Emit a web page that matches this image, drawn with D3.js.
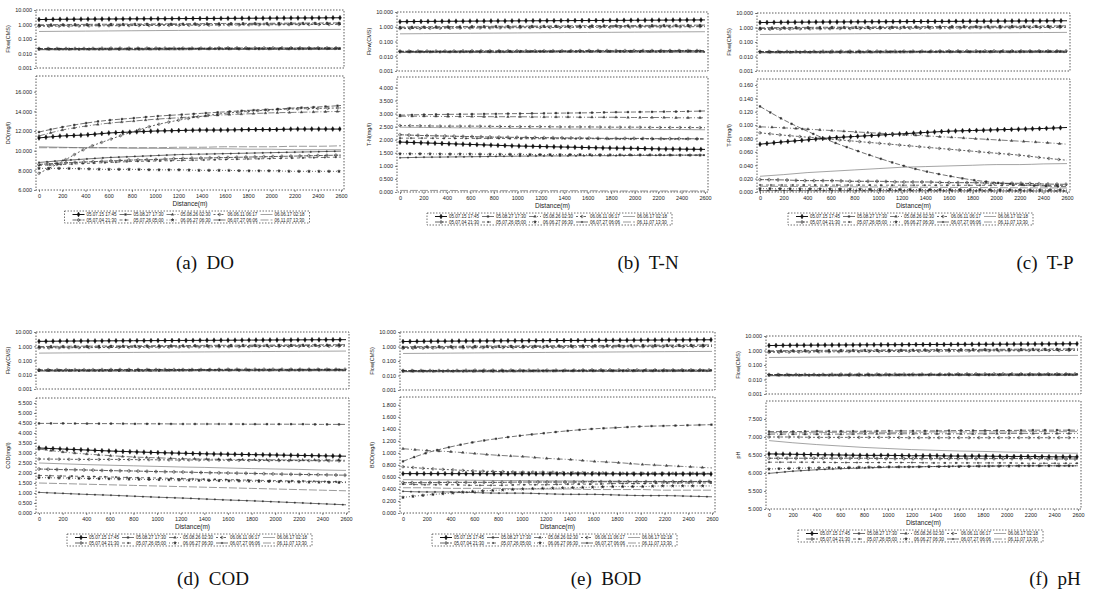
<!DOCTYPE html>
<html>
<head>
<meta charset="utf-8">
<script src="https://d3js.org/d3.v7.min.js"></script>
<style>
  body { margin: 0; background: #fff; }
  svg text { font-family: "Liberation Sans", Arial, sans-serif; fill: #222; }
  .cap { font-family: "Liberation Serif", "DejaVu Serif", serif; font-size: 19px; fill: #111; }
</style>
</head>
<body>
<div id="chart"></div>
<script>
// ---- data ----
const distance = [0, 200, 400, 600, 800, 1000, 1200, 1400, 1600, 1800, 2000, 2200, 2400, 2600];
const distTicks = [0, 200, 400, 600, 800, 1000, 1200, 1400, 1600, 1800, 2000, 2200, 2400, 2600];

const seriesDates = [
  "05.07.15 17:45", "05.08.27 17:30", "05.08.26 02:30", "06.06.11 06:17", "06.06.17 02:18",
  "05.07.04 21:30", "05.07.26 05:00", "06.06.27 06:30", "06.07.27 06:06", "06.11.07 13:30"
];

// flow (CMS), same hydraulics in every panel
const flowValues = [
  [2.2, 2.3, 2.35, 2.4, 2.45, 2.5, 2.55, 2.6, 2.65, 2.7, 2.75, 2.8, 2.85, 2.9],
  [0.95, 1.0, 1.02, 1.05, 1.08, 1.1, 1.12, 1.15, 1.18, 1.2, 1.22, 1.25, 1.27, 1.3],
  [0.85, 0.88, 0.9, 0.93, 0.96, 0.98, 1.0, 1.02, 1.04, 1.06, 1.08, 1.1, 1.12, 1.14],
  [0.75, 0.78, 0.8, 0.82, 0.84, 0.86, 0.88, 0.9, 0.92, 0.94, 0.96, 0.98, 1.0, 1.02],
  [0.33, 0.34, 0.35, 0.36, 0.37, 0.38, 0.39, 0.4, 0.41, 0.42, 0.43, 0.44, 0.45, 0.46],
  [0.022, 0.022, 0.022, 0.023, 0.023, 0.023, 0.023, 0.023, 0.024, 0.024, 0.024, 0.024, 0.024, 0.024],
  [0.021, 0.021, 0.021, 0.021, 0.022, 0.022, 0.022, 0.022, 0.022, 0.022, 0.023, 0.023, 0.023, 0.023],
  [0.020, 0.020, 0.020, 0.020, 0.020, 0.021, 0.021, 0.021, 0.021, 0.021, 0.021, 0.021, 0.022, 0.022],
  [0.019, 0.019, 0.019, 0.019, 0.019, 0.019, 0.020, 0.020, 0.020, 0.020, 0.020, 0.020, 0.020, 0.020],
  [0.018, 0.018, 0.018, 0.018, 0.018, 0.018, 0.018, 0.019, 0.019, 0.019, 0.019, 0.019, 0.019, 0.019]
];
const flowTicks = [0.001, 0.01, 0.1, 1, 10];

const doValues = [
  [11.3, 11.5, 11.6, 11.8, 11.9, 12.0, 12.05, 12.1, 12.1, 12.15, 12.15, 12.2, 12.2, 12.2],
  [11.9, 12.4, 12.8, 13.1, 13.3, 13.5, 13.65, 13.8, 13.95, 14.1, 14.2, 14.35, 14.45, 14.6],
  [11.5, 12.1, 12.5, 12.8, 13.0, 13.2, 13.35, 13.5, 13.65, 13.75, 13.85, 13.9, 13.95, 14.0],
  [7.7, 8.9, 10.2, 11.1, 11.9, 12.6, 13.1, 13.5, 13.8, 14.0, 14.15, 14.25, 14.3, 14.35],
  [10.4, 10.35, 10.3, 10.3, 10.25, 10.25, 10.2, 10.2, 10.2, 10.15, 10.15, 10.1, 10.1, 10.1],
  [8.6, 8.75, 8.85, 8.95, 9.05, 9.1, 9.2, 9.25, 9.3, 9.35, 9.4, 9.45, 9.5, 9.55],
  [8.5, 8.6, 8.7, 8.8, 8.9, 8.95, 9.0, 9.05, 9.1, 9.15, 9.2, 9.25, 9.3, 9.35],
  [8.2, 8.2, 8.15, 8.1, 8.1, 8.05, 8.05, 8.0, 8.0, 7.95, 7.95, 7.9, 7.9, 7.9],
  [8.8, 9.0, 9.15, 9.3, 9.4, 9.5, 9.6, 9.65, 9.7, 9.75, 9.8, 9.85, 9.9, 9.95],
  [10.3, 10.3, 10.3, 10.3, 10.3, 10.3, 10.35, 10.35, 10.4, 10.4, 10.4, 10.45, 10.45, 10.5]
];
const doTicks = [6, 8, 10, 12, 14, 16];

const tnValues = [
  [1.91, 1.88, 1.85, 1.82, 1.79, 1.76, 1.74, 1.72, 1.70, 1.68, 1.67, 1.65, 1.64, 1.63],
  [2.94, 2.96, 2.97, 2.98, 2.99, 3.0, 3.01, 3.02, 3.03, 3.05, 3.06, 3.07, 3.08, 3.1],
  [2.9, 2.9, 2.89, 2.89, 2.88, 2.88, 2.87, 2.87, 2.86, 2.86, 2.85, 2.85, 2.84, 2.84],
  [2.54, 2.53, 2.52, 2.52, 2.51, 2.5, 2.5, 2.49, 2.49, 2.48, 2.48, 2.47, 2.47, 2.46],
  [2.48, 2.47, 2.46, 2.45, 2.44, 2.43, 2.42, 2.41, 2.41, 2.4, 2.4, 2.39, 2.39, 2.38],
  [2.19, 2.16, 2.14, 2.12, 2.10, 2.09, 2.08, 2.07, 2.06, 2.05, 2.05, 2.04, 2.04, 2.03],
  [2.06, 2.06, 2.05, 2.05, 2.05, 2.04, 2.04, 2.04, 2.04, 2.03, 2.03, 2.03, 2.03, 2.03],
  [1.46, 1.46, 1.45, 1.45, 1.44, 1.44, 1.43, 1.43, 1.43, 1.42, 1.42, 1.42, 1.41, 1.41],
  [1.31, 1.33, 1.34, 1.35, 1.36, 1.37, 1.38, 1.38, 1.39, 1.39, 1.40, 1.40, 1.41, 1.41],
  [0.06, 0.06, 0.06, 0.05, 0.05, 0.05, 0.05, 0.05, 0.05, 0.04, 0.04, 0.04, 0.04, 0.04]
];
const tnTicks = [0, 0.5, 1, 1.5, 2, 2.5, 3, 3.5, 4];

const tpValues = [
  [0.0715, 0.075, 0.078, 0.081, 0.083, 0.085, 0.087, 0.089, 0.091, 0.092, 0.093, 0.094, 0.095, 0.0965],
  [0.128, 0.108, 0.091, 0.076, 0.063, 0.051, 0.040, 0.031, 0.024, 0.018, 0.014, 0.011, 0.009, 0.008],
  [0.0975, 0.096, 0.094, 0.092, 0.090, 0.088, 0.086, 0.084, 0.082, 0.080, 0.078, 0.076, 0.074, 0.0715],
  [0.0885, 0.085, 0.082, 0.079, 0.076, 0.073, 0.070, 0.067, 0.064, 0.061, 0.058, 0.055, 0.051, 0.0475],
  [0.0235, 0.026, 0.029, 0.031, 0.033, 0.035, 0.037, 0.038, 0.039, 0.040, 0.041, 0.041, 0.042, 0.0425],
  [0.0185, 0.018, 0.017, 0.017, 0.016, 0.016, 0.015, 0.015, 0.014, 0.014, 0.013, 0.013, 0.012, 0.0115],
  [0.0105, 0.0104, 0.0104, 0.0103, 0.0103, 0.0102, 0.0102, 0.0101, 0.0101, 0.0100, 0.0100, 0.0100, 0.0099, 0.0099],
  [0.005, 0.0048, 0.0046, 0.0044, 0.0042, 0.0040, 0.0039, 0.0037, 0.0036, 0.0035, 0.0033, 0.0032, 0.0031, 0.0030],
  [0.0022, 0.0022, 0.0021, 0.0021, 0.0020, 0.0020, 0.0019, 0.0019, 0.0018, 0.0018, 0.0017, 0.0017, 0.0016, 0.0016],
  [0.0085, 0.0083, 0.0081, 0.0079, 0.0077, 0.0075, 0.0073, 0.0071, 0.0069, 0.0067, 0.0065, 0.0063, 0.0061, 0.0060]
];
const tpTicks = [0, 0.02, 0.04, 0.06, 0.08, 0.1, 0.12, 0.14, 0.16];

const codValues = [
  [3.25, 3.2, 3.15, 3.1, 3.06, 3.02, 2.99, 2.96, 2.94, 2.92, 2.9, 2.88, 2.86, 2.84],
  [4.48, 4.48, 4.47, 4.47, 4.46, 4.46, 4.45, 4.45, 4.45, 4.44, 4.44, 4.44, 4.43, 4.43],
  [3.2, 3.05, 2.95, 2.87, 2.8, 2.76, 2.72, 2.7, 2.68, 2.67, 2.66, 2.65, 2.65, 2.64],
  [2.7, 2.69, 2.68, 2.68, 2.67, 2.66, 2.65, 2.65, 2.64, 2.63, 2.62, 2.62, 2.61, 2.6],
  [2.5, 2.46, 2.42, 2.39, 2.36, 2.33, 2.3, 2.28, 2.25, 2.22, 2.2, 2.18, 2.15, 2.13],
  [2.2, 2.17, 2.15, 2.12, 2.1, 2.07, 2.05, 2.02, 2.0, 1.98, 1.95, 1.93, 1.91, 1.89],
  [1.88, 1.85, 1.83, 1.8, 1.77, 1.75, 1.72, 1.69, 1.67, 1.64, 1.62, 1.6, 1.58, 1.56],
  [1.77, 1.75, 1.73, 1.71, 1.69, 1.67, 1.65, 1.63, 1.61, 1.59, 1.57, 1.55, 1.54, 1.52],
  [1.03, 0.98, 0.93, 0.89, 0.84, 0.79, 0.75, 0.70, 0.65, 0.61, 0.56, 0.51, 0.46, 0.41],
  [1.5, 1.47, 1.44, 1.41, 1.38, 1.35, 1.32, 1.29, 1.26, 1.23, 1.2, 1.17, 1.14, 1.11]
];
const codTicks = [0, 0.5, 1, 1.5, 2, 2.5, 3, 3.5, 4, 4.5, 5, 5.5];

const bodValues = [
  [0.655, 0.655, 0.655, 0.654, 0.653, 0.653, 0.652, 0.652, 0.651, 0.651, 0.65, 0.65, 0.65, 0.65],
  [0.86, 1.0, 1.1, 1.18, 1.24, 1.29, 1.33, 1.37, 1.40, 1.42, 1.44, 1.45, 1.46, 1.47],
  [1.07, 1.04, 1.02, 0.99, 0.96, 0.94, 0.91, 0.89, 0.86, 0.84, 0.81, 0.79, 0.77, 0.75],
  [0.77, 0.74, 0.72, 0.7, 0.69, 0.68, 0.68, 0.67, 0.67, 0.66, 0.66, 0.66, 0.66, 0.66],
  [0.555, 0.55, 0.55, 0.545, 0.54, 0.54, 0.535, 0.535, 0.53, 0.53, 0.525, 0.525, 0.52, 0.52],
  [0.505, 0.505, 0.51, 0.51, 0.51, 0.515, 0.515, 0.515, 0.52, 0.52, 0.52, 0.52, 0.525, 0.525],
  [0.48, 0.47, 0.47, 0.46, 0.46, 0.47, 0.47, 0.48, 0.48, 0.49, 0.49, 0.5, 0.5, 0.5],
  [0.26, 0.3, 0.33, 0.36, 0.38, 0.40, 0.41, 0.42, 0.43, 0.44, 0.44, 0.45, 0.45, 0.45],
  [0.36, 0.35, 0.35, 0.34, 0.33, 0.33, 0.32, 0.31, 0.31, 0.30, 0.29, 0.29, 0.28, 0.27],
  [0.42, 0.42, 0.41, 0.41, 0.41, 0.40, 0.40, 0.40, 0.39, 0.39, 0.39, 0.38, 0.38, 0.38]
];
const bodTicks = [0, 0.2, 0.4, 0.6, 0.8, 1, 1.2, 1.4, 1.6, 1.8];

const phValues = [
  [6.53, 6.52, 6.51, 6.5, 6.49, 6.49, 6.48, 6.48, 6.47, 6.47, 6.46, 6.46, 6.45, 6.45],
  [7.15, 7.15, 7.16, 7.16, 7.16, 7.17, 7.17, 7.17, 7.18, 7.18, 7.18, 7.19, 7.19, 7.19],
  [7.08, 7.08, 7.08, 7.08, 7.09, 7.09, 7.09, 7.09, 7.09, 7.09, 7.1, 7.1, 7.1, 7.1],
  [7.0, 7.0, 6.99, 6.99, 6.99, 6.99, 6.98, 6.98, 6.98, 6.98, 6.98, 6.98, 6.98, 6.98],
  [6.9, 6.84, 6.79, 6.75, 6.71, 6.68, 6.65, 6.63, 6.61, 6.6, 6.58, 6.57, 6.56, 6.55],
  [6.41, 6.41, 6.41, 6.41, 6.41, 6.4, 6.4, 6.4, 6.4, 6.4, 6.4, 6.4, 6.39, 6.39],
  [6.3, 6.3, 6.3, 6.29, 6.29, 6.29, 6.29, 6.28, 6.28, 6.28, 6.28, 6.27, 6.27, 6.27],
  [6.11, 6.13, 6.14, 6.15, 6.16, 6.17, 6.17, 6.18, 6.18, 6.19, 6.19, 6.2, 6.2, 6.2],
  [5.99, 6.05, 6.09, 6.12, 6.14, 6.16, 6.17, 6.18, 6.19, 6.19, 6.2, 6.2, 6.2, 6.2],
  [7.12, 7.12, 7.12, 7.13, 7.13, 7.13, 7.13, 7.14, 7.14, 7.14, 7.14, 7.15, 7.15, 7.15]
];
const phTicks = [5, 5.5, 6, 6.5, 7, 7.5];

// ---- layout / styles ----
const lineStyles = [
  { dash: null,      w: 1.0, color: "#111", sym: d3.symbolDiamond, size: 7,  step: 7 },
  { dash: "5,2",     w: 0.7, color: "#333", sym: d3.symbolSquare,  size: 3,  step: 12 },
  { dash: "6,2,1,2", w: 0.7, color: "#444", sym: d3.symbolTriangle, size: 3, step: 12 },
  { dash: "2,2",     w: 0.7, color: "#222", sym: d3.symbolCross,   size: 4,  step: 10 },
  { dash: null,      w: 0.6, color: "#666", sym: null,             size: 0,  step: 0 },
  { dash: "4,1",     w: 0.7, color: "#222", sym: d3.symbolCross,   size: 5,  step: 9 },
  { dash: "3,3",     w: 0.7, color: "#333", sym: d3.symbolCircle,  size: 2,  step: 11 },
  { dash: "1,2",     w: 0.7, color: "#222", sym: d3.symbolStar,    size: 3,  step: 10 },
  { dash: null,      w: 0.7, color: "#333", sym: d3.symbolSquare,  size: 1.5, step: 8 },
  { dash: "8,2",     w: 0.6, color: "#555", sym: null,             size: 0,  step: 0 }
];

const panels = [
  { caption: "(a)  DO",  yLabel: "DO(mg/l)",  values: doValues,  domain: [6, 17.6],  ticks: doTicks,
    left: 36,  right: 344,  flow: [10, 68],   conc: [76, 190],  capX: 205,  capY: 269 },
  { caption: "(b)  T-N", yLabel: "T-N(mg/l)", values: tnValues,  domain: [0, 4.4],   ticks: tnTicks,
    left: 397, right: 708,  flow: [12, 71],   conc: [77, 192],  capX: 648,  capY: 269 },
  { caption: "(c)  T-P", yLabel: "T-P(mg/l)", values: tpValues,  domain: [0, 0.169], ticks: tpTicks,
    left: 757, right: 1070, flow: [13, 71],   conc: [79, 192],  capX: 1045, capY: 269 },
  { caption: "(d)  COD", yLabel: "COD(mg/l)", values: codValues, domain: [0, 5.75],  ticks: codTicks,
    left: 36,  right: 349,  flow: [332, 389], conc: [398, 513], capX: 213,  capY: 585 },
  { caption: "(e)  BOD", yLabel: "BOD(mg/l)", values: bodValues, domain: [0, 1.93],  ticks: bodTicks,
    left: 400, right: 715,  flow: [332, 390], conc: [397, 513], capX: 606,  capY: 585 },
  { caption: "(f)  pH",  yLabel: "pH",        values: phValues,  domain: [5, 8],     ticks: phTicks,
    left: 766, right: 1081, flow: [336, 394], conc: [401, 509], capX: 1055, capY: 585 }
];

const svg = d3.select("#chart").append("svg")
  .attr("width", 1100)
  .attr("height", 596);

function frame(g, x0, x1, y0, y1) {
  g.append("rect")
    .attr("x", x0).attr("y", y0)
    .attr("width", x1 - x0).attr("height", y1 - y0)
    .attr("fill", "none")
    .attr("stroke", "#333")
    .attr("stroke-width", 0.8)
    .attr("stroke-dasharray", "1.5,1.5");
}

function drawSeries(g, x, y, values) {
  const line = d3.line()
    .x((d, i) => x(distance[i]))
    .y(d => y(d))
    .curve(d3.curveMonotoneX);
  values.forEach((vals, s) => {
    const st = lineStyles[s];
    const path = g.append("path")
      .datum(vals)
      .attr("d", line)
      .attr("fill", "none")
      .attr("stroke", st.color)
      .attr("stroke-width", st.w)
      .attr("stroke-dasharray", st.dash);
    if (st.sym) {
      // markers placed along the drawn path
      const node = path.node();
      const len = node.getTotalLength();
      const sym = d3.symbol().type(st.sym).size(st.size);
      for (let l = 0; l <= len; l += st.step) {
        const p = node.getPointAtLength(l);
        g.append("path")
          .attr("d", sym)
          .attr("transform", `translate(${p.x},${p.y})`)
          .attr("fill", st.sym === d3.symbolCross ? "none" : st.color)
          .attr("stroke", st.color)
          .attr("stroke-width", 0.4);
      }
    }
  });
}

function styleAxis(sel) {
  sel.select(".domain").remove();
  sel.selectAll(".tick line").attr("stroke", "#333").attr("stroke-width", 0.6);
  sel.selectAll(".tick text").attr("font-size", "5.5px").attr("fill", "#222");
}

panels.forEach(p => {
  const g = svg.append("g");

  const x = d3.scaleLinear().domain([0, 2600]).range([p.left + 3, p.right - 3]);

  // --- flow subplot ---
  const yf = d3.scaleLog().domain([0.001, 10]).range([p.flow[1], p.flow[0]]);
  frame(g, p.left, p.right, p.flow[0], p.flow[1]);
  g.append("g")
    .attr("transform", `translate(${p.left},0)`)
    .call(d3.axisLeft(yf).tickValues(flowTicks).tickFormat(d3.format(".3f")).tickSize(2).tickPadding(2))
    .call(styleAxis);
  drawSeries(g, x, yf, flowValues);
  g.append("text")
    .attr("transform", `translate(${p.left - 26},${(p.flow[0] + p.flow[1]) / 2}) rotate(-90)`)
    .attr("text-anchor", "middle")
    .attr("font-size", "5.5px")
    .text("Flow(CMS)");

  // --- concentration subplot ---
  const yc = d3.scaleLinear().domain(p.domain).range([p.conc[1], p.conc[0]]);
  frame(g, p.left, p.right, p.conc[0], p.conc[1]);
  g.append("g")
    .attr("transform", `translate(${p.left},0)`)
    .call(d3.axisLeft(yc).tickValues(p.ticks).tickFormat(d3.format(".3f")).tickSize(2).tickPadding(2))
    .call(styleAxis);
  g.append("g")
    .attr("transform", `translate(0,${p.conc[1]})`)
    .call(d3.axisBottom(x).tickValues(distTicks).tickFormat(d3.format("d")).tickSize(2).tickPadding(2))
    .call(styleAxis);
  drawSeries(g, x, yc, p.values);
  g.append("text")
    .attr("transform", `translate(${p.left - 26},${(p.conc[0] + p.conc[1]) / 2}) rotate(-90)`)
    .attr("text-anchor", "middle")
    .attr("font-size", "5.5px")
    .text(p.yLabel);
  g.append("text")
    .attr("x", (p.left + p.right) / 2)
    .attr("y", p.conc[1] + 16)
    .attr("text-anchor", "middle")
    .attr("font-size", "6.5px")
    .text("Distance(m)");

  // --- legend ---
  const legW = 245, legH = 12;
  const lx = (p.left + p.right) / 2 - legW / 2 - 3;
  const ly = p.conc[1] + 21;
  g.append("rect")
    .attr("x", lx).attr("y", ly)
    .attr("width", legW).attr("height", legH)
    .attr("fill", "#fff")
    .attr("stroke", "#333")
    .attr("stroke-width", 0.7)
    .attr("stroke-dasharray", "1.5,1.5");
  seriesDates.forEach((label, s) => {
    const st = lineStyles[s];
    const col = s % 5, row = Math.floor(s / 5);
    const ex = lx + 8 + col * 47;
    const ey = ly + 3.5 + row * 5.5;
    g.append("line")
      .attr("x1", ex).attr("x2", ex + 12)
      .attr("y1", ey).attr("y2", ey)
      .attr("stroke", st.color)
      .attr("stroke-width", st.w)
      .attr("stroke-dasharray", st.dash);
    if (st.sym) {
      g.append("path")
        .attr("d", d3.symbol().type(st.sym).size(st.size))
        .attr("transform", `translate(${ex + 6},${ey})`)
        .attr("fill", st.sym === d3.symbolCross ? "none" : st.color)
        .attr("stroke", st.color)
        .attr("stroke-width", 0.4);
    }
    g.append("text")
      .attr("x", ex + 14)
      .attr("y", ey + 1.6)
      .attr("font-size", "4.5px")
      .text(label);
  });

  // --- caption ---
  g.append("text")
    .attr("class", "cap")
    .attr("x", p.capX)
    .attr("y", p.capY)
    .attr("text-anchor", "middle")
    .attr("xml:space", "preserve")
    .style("white-space", "pre")
    .text(p.caption);
});
</script>
</body>
</html>
